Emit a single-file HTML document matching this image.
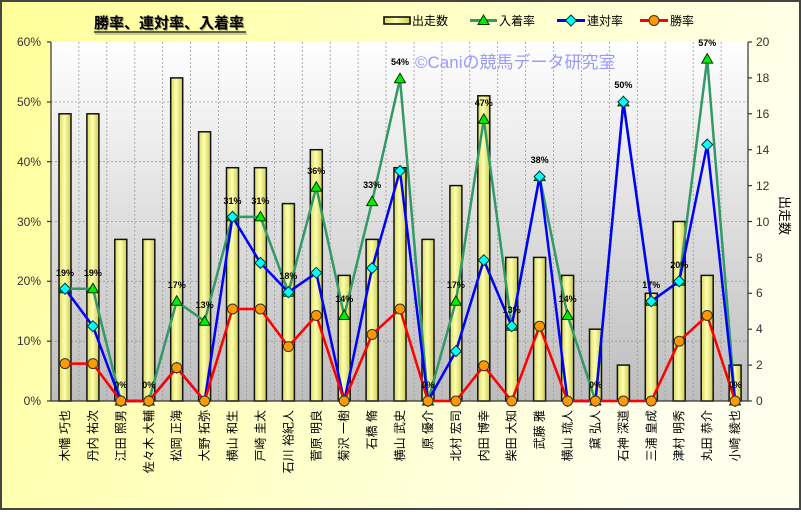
<!DOCTYPE html>
<html><head><meta charset="utf-8"><style>
html,body{margin:0;padding:0;}
body{width:801px;height:510px;overflow:hidden;}
text{font-family:"Liberation Sans","Noto Sans CJK JP",sans-serif;}
</style></head><body>
<svg width="801" height="510" viewBox="0 0 801 510" xmlns="http://www.w3.org/2000/svg">
<defs>
<linearGradient id="bg" x1="0" y1="0" x2="1" y2="0.3"><stop offset="0" stop-color="#ffff99"/><stop offset="1" stop-color="#ffffee"/></linearGradient>
<linearGradient id="pl" x1="0" y1="0" x2="0" y2="1"><stop offset="0" stop-color="#ffffff"/><stop offset="1" stop-color="#bdbdbd"/></linearGradient>
<linearGradient id="bar" x1="0" y1="0" x2="1" y2="0"><stop offset="0" stop-color="#d8d860"/><stop offset="0.45" stop-color="#ffffb0"/><stop offset="1" stop-color="#cccc50"/></linearGradient>
<marker id="tri" markerUnits="userSpaceOnUse" markerWidth="14" markerHeight="14" refX="7" refY="7" viewBox="0 0 14 14"><polygon points="7,1.5 12.5,11 1.5,11" fill="#00ee00" stroke="#003300" stroke-width="1"/></marker>
<marker id="dia" markerUnits="userSpaceOnUse" markerWidth="14" markerHeight="14" refX="7" refY="7" viewBox="0 0 14 14"><polygon points="7,1.5 12.5,7 7,12.5 1.5,7" fill="#00ffff" stroke="#003333" stroke-width="1"/></marker>
<marker id="cir" markerUnits="userSpaceOnUse" markerWidth="14" markerHeight="14" refX="7" refY="7" viewBox="0 0 14 14"><circle cx="7" cy="7" r="5" fill="#ff9900" stroke="#333" stroke-width="1"/></marker>
</defs>
<rect x="0" y="0" width="801" height="510" fill="url(#bg)"/>
<rect x="1" y="1" width="799" height="508" fill="none" stroke="#444" stroke-width="2"/>
<text x="95" y="29" font-size="15" font-weight="bold" fill="#999966">勝率、連対率、入着率</text>
<text x="94" y="28" font-size="15" font-weight="bold" fill="#000">勝率、連対率、入着率</text>
<line x1="94" y1="32" x2="246" y2="32" stroke="#000" stroke-width="1.2"/>
<line x1="95" y1="34" x2="247" y2="34" stroke="#999966" stroke-width="1"/>
<rect x="384" y="17" width="26" height="7" fill="url(#bar)" stroke="#000" stroke-width="1.5"/>
<text x="412" y="25" font-size="12" fill="#000">出走数</text>
<polyline points="470,20.5 483.5,20.5 497,20.5" fill="none" stroke="#339966" stroke-width="3" marker-mid="url(#tri)"/>
<text x="499" y="25" font-size="12" fill="#000">入着率</text>
<polyline points="557,20.5 571,20.5 585,20.5" fill="none" stroke="#0000ff" stroke-width="3" marker-mid="url(#dia)"/>
<text x="587" y="25" font-size="12" fill="#000">連対率</text>
<polyline points="640,20.5 654,20.5 668,20.5" fill="none" stroke="#ff0000" stroke-width="3" marker-mid="url(#cir)"/>
<text x="670" y="25" font-size="12" fill="#000">勝率</text>
<rect x="51" y="42" width="697" height="359" fill="url(#pl)"/>
<g stroke="#999" stroke-width="0.8" stroke-dasharray="2,2">
<line x1="51" y1="102" x2="748" y2="102"/><line x1="51" y1="161.7" x2="748" y2="161.7"/><line x1="51" y1="221.5" x2="748" y2="221.5"/><line x1="51" y1="281.3" x2="748" y2="281.3"/><line x1="51" y1="341.2" x2="748" y2="341.2"/>
<line x1="78.9" y1="42" x2="78.9" y2="401"/><line x1="106.8" y1="42" x2="106.8" y2="401"/><line x1="134.8" y1="42" x2="134.8" y2="401"/><line x1="162.7" y1="42" x2="162.7" y2="401"/><line x1="190.6" y1="42" x2="190.6" y2="401"/><line x1="218.5" y1="42" x2="218.5" y2="401"/><line x1="246.4" y1="42" x2="246.4" y2="401"/><line x1="274.4" y1="42" x2="274.4" y2="401"/><line x1="302.3" y1="42" x2="302.3" y2="401"/><line x1="330.2" y1="42" x2="330.2" y2="401"/><line x1="358.1" y1="42" x2="358.1" y2="401"/><line x1="386" y1="42" x2="386" y2="401"/><line x1="414" y1="42" x2="414" y2="401"/><line x1="441.9" y1="42" x2="441.9" y2="401"/><line x1="469.8" y1="42" x2="469.8" y2="401"/><line x1="497.7" y1="42" x2="497.7" y2="401"/><line x1="525.6" y1="42" x2="525.6" y2="401"/><line x1="553.6" y1="42" x2="553.6" y2="401"/><line x1="581.5" y1="42" x2="581.5" y2="401"/><line x1="609.4" y1="42" x2="609.4" y2="401"/><line x1="637.3" y1="42" x2="637.3" y2="401"/><line x1="665.2" y1="42" x2="665.2" y2="401"/><line x1="693.2" y1="42" x2="693.2" y2="401"/><line x1="721.1" y1="42" x2="721.1" y2="401"/>
</g>
<text x="415" y="68" font-size="17" fill="#9999ff">©Caniの競馬データ研究室</text>
<g fill="url(#bar)" stroke="#111" stroke-width="1.5">
<rect x="59" y="113.8" width="12" height="287.2"/>
<rect x="86.9" y="113.8" width="12" height="287.2"/>
<rect x="114.8" y="239.4" width="12" height="161.6"/>
<rect x="142.8" y="239.4" width="12" height="161.6"/>
<rect x="170.7" y="77.9" width="12" height="323.1"/>
<rect x="198.6" y="131.8" width="12" height="269.2"/>
<rect x="226.5" y="167.7" width="12" height="233.3"/>
<rect x="254.4" y="167.7" width="12" height="233.3"/>
<rect x="282.4" y="203.6" width="12" height="197.4"/>
<rect x="310.3" y="149.7" width="12" height="251.3"/>
<rect x="338.2" y="275.4" width="12" height="125.6"/>
<rect x="366.1" y="239.4" width="12" height="161.6"/>
<rect x="394" y="167.7" width="12" height="233.3"/>
<rect x="422" y="239.4" width="12" height="161.6"/>
<rect x="449.9" y="185.6" width="12" height="215.4"/>
<rect x="477.8" y="95.8" width="12" height="305.2"/>
<rect x="505.7" y="257.4" width="12" height="143.6"/>
<rect x="533.6" y="257.4" width="12" height="143.6"/>
<rect x="561.6" y="275.4" width="12" height="125.6"/>
<rect x="589.5" y="329.2" width="12" height="71.8"/>
<rect x="617.4" y="365.1" width="12" height="35.9"/>
<rect x="645.3" y="293.3" width="12" height="107.7"/>
<rect x="673.2" y="221.5" width="12" height="179.5"/>
<rect x="701.2" y="275.4" width="12" height="125.6"/>
<rect x="729.1" y="365.1" width="12" height="35.9"/>
</g>
<g stroke="#333" stroke-width="1.2">
<line x1="51" y1="42" x2="51" y2="401"/><line x1="748" y1="42" x2="748" y2="401"/><line x1="51" y1="401" x2="748" y2="401"/>
<line x1="47" y1="42" x2="51" y2="42"/><line x1="47" y1="102" x2="51" y2="102"/><line x1="47" y1="161.7" x2="51" y2="161.7"/><line x1="47" y1="221.5" x2="51" y2="221.5"/><line x1="47" y1="281.3" x2="51" y2="281.3"/><line x1="47" y1="341.2" x2="51" y2="341.2"/><line x1="47" y1="401" x2="51" y2="401"/>
<line x1="748" y1="42" x2="752" y2="42"/><line x1="748" y1="77.9" x2="752" y2="77.9"/><line x1="748" y1="113.8" x2="752" y2="113.8"/><line x1="748" y1="149.7" x2="752" y2="149.7"/><line x1="748" y1="185.6" x2="752" y2="185.6"/><line x1="748" y1="221.5" x2="752" y2="221.5"/><line x1="748" y1="257.4" x2="752" y2="257.4"/><line x1="748" y1="293.3" x2="752" y2="293.3"/><line x1="748" y1="329.2" x2="752" y2="329.2"/><line x1="748" y1="365.1" x2="752" y2="365.1"/><line x1="748" y1="401" x2="752" y2="401"/>
</g>
<g font-size="12" fill="#333" text-anchor="end">
<text x="41" y="46">60%</text><text x="41" y="106">50%</text><text x="41" y="166">40%</text><text x="41" y="226">30%</text><text x="41" y="285">20%</text><text x="41" y="345">10%</text><text x="41" y="405">0%</text>
</g>
<g font-size="12" fill="#333">
<text x="756" y="46">20</text><text x="756" y="82">18</text><text x="756" y="118">16</text><text x="756" y="154">14</text><text x="756" y="190">12</text><text x="756" y="226">10</text><text x="756" y="262">8</text><text x="756" y="297">6</text><text x="756" y="333">4</text><text x="756" y="369">2</text><text x="756" y="405">0</text>
</g>
<text transform="translate(780,196) rotate(90)" font-size="13" fill="#000">出走数</text>
<polyline fill="none" stroke="#339966" stroke-width="2.5" marker-start="url(#tri)" marker-mid="url(#tri)" marker-end="url(#tri)" points="65,288.8 92.9,288.8 120.8,401 148.8,401 176.7,301.3 204.6,321.2 232.5,216.9 260.4,216.9 288.4,292.2 316.3,187.3 344.2,315.5 372.1,201.6 400,78.8 428,401 455.9,301.3 483.8,119.4 511.7,326.2 539.6,176.6 567.6,315.5 595.5,401 623.4,101.9 651.3,301.3 679.2,281.3 707.2,59.1 735.1,401"/>
<polyline fill="none" stroke="#0000ff" stroke-width="2.5" marker-start="url(#dia)" marker-mid="url(#dia)" marker-end="url(#dia)" points="65,288.8 92.9,326.2 120.8,401 148.8,401 176.7,367.7 204.6,401 232.5,216.9 260.4,262.9 288.4,292.2 316.3,272.8 344.2,401 372.1,268.1 400,170.9 428,401 455.9,351.2 483.8,260.2 511.7,326.2 539.6,176.6 567.6,401 595.5,401 623.4,101.9 651.3,301.3 679.2,281.3 707.2,144.6 735.1,401"/>
<polyline fill="none" stroke="#ff0000" stroke-width="2.5" marker-start="url(#cir)" marker-mid="url(#cir)" marker-end="url(#cir)" points="65,363.6 92.9,363.6 120.8,401 148.8,401 176.7,367.7 204.6,401 232.5,309 260.4,309 288.4,346.6 316.3,315.5 344.2,401 372.1,334.5 400,309 428,401 455.9,401 483.8,365.8 511.7,401 539.6,326.2 567.6,401 595.5,401 623.4,401 651.3,401 679.2,341.2 707.2,315.5 735.1,401"/>
<g font-size="9" font-weight="bold" fill="#000" text-anchor="middle">
<text x="65" y="276">19%</text><text x="92.9" y="276">19%</text><text x="120.8" y="388">0%</text><text x="148.8" y="388">0%</text><text x="176.7" y="288">17%</text><text x="204.6" y="308">13%</text><text x="232.5" y="204">31%</text><text x="260.4" y="204">31%</text><text x="288.4" y="279">18%</text><text x="316.3" y="174">36%</text><text x="344.2" y="302">14%</text><text x="372.1" y="188">33%</text><text x="400" y="65">54%</text><text x="428" y="388">0%</text><text x="455.9" y="288">17%</text><text x="483.8" y="106">47%</text><text x="511.7" y="313">13%</text><text x="539.6" y="163">38%</text><text x="567.6" y="302">14%</text><text x="595.5" y="388">0%</text><text x="623.4" y="88">50%</text><text x="651.3" y="288">17%</text><text x="679.2" y="268">20%</text><text x="707.2" y="46">57%</text><text x="735.1" y="388">0%</text>
</g>
<g font-size="12" fill="#000" text-anchor="end">
<text transform="translate(69,410) rotate(-90)">木幡 巧也</text>
<text transform="translate(96.9,410) rotate(-90)">丹内 祐次</text>
<text transform="translate(124.8,410) rotate(-90)">江田 照男</text>
<text transform="translate(152.8,410) rotate(-90)">佐々木 大輔</text>
<text transform="translate(180.7,410) rotate(-90)">松岡 正海</text>
<text transform="translate(208.6,410) rotate(-90)">大野 拓弥</text>
<text transform="translate(236.5,410) rotate(-90)">横山 和生</text>
<text transform="translate(264.4,410) rotate(-90)">戸崎 圭太</text>
<text transform="translate(292.4,410) rotate(-90)">石川 裕紀人</text>
<text transform="translate(320.3,410) rotate(-90)">菅原 明良</text>
<text transform="translate(348.2,410) rotate(-90)">菊沢 一樹</text>
<text transform="translate(376.1,410) rotate(-90)">石橋 脩</text>
<text transform="translate(404,410) rotate(-90)">横山 武史</text>
<text transform="translate(432,410) rotate(-90)">原 優介</text>
<text transform="translate(459.9,410) rotate(-90)">北村 宏司</text>
<text transform="translate(487.8,410) rotate(-90)">内田 博幸</text>
<text transform="translate(515.7,410) rotate(-90)">柴田 大知</text>
<text transform="translate(543.6,410) rotate(-90)">武藤 雅</text>
<text transform="translate(571.6,410) rotate(-90)">横山 琉人</text>
<text transform="translate(599.5,410) rotate(-90)">黛 弘人</text>
<text transform="translate(627.4,410) rotate(-90)">石神 深道</text>
<text transform="translate(655.3,410) rotate(-90)">三浦 皇成</text>
<text transform="translate(683.2,410) rotate(-90)">津村 明秀</text>
<text transform="translate(711.2,410) rotate(-90)">丸田 恭介</text>
<text transform="translate(739.1,410) rotate(-90)">小崎 綾也</text>
</g>
</svg>
</body></html>
